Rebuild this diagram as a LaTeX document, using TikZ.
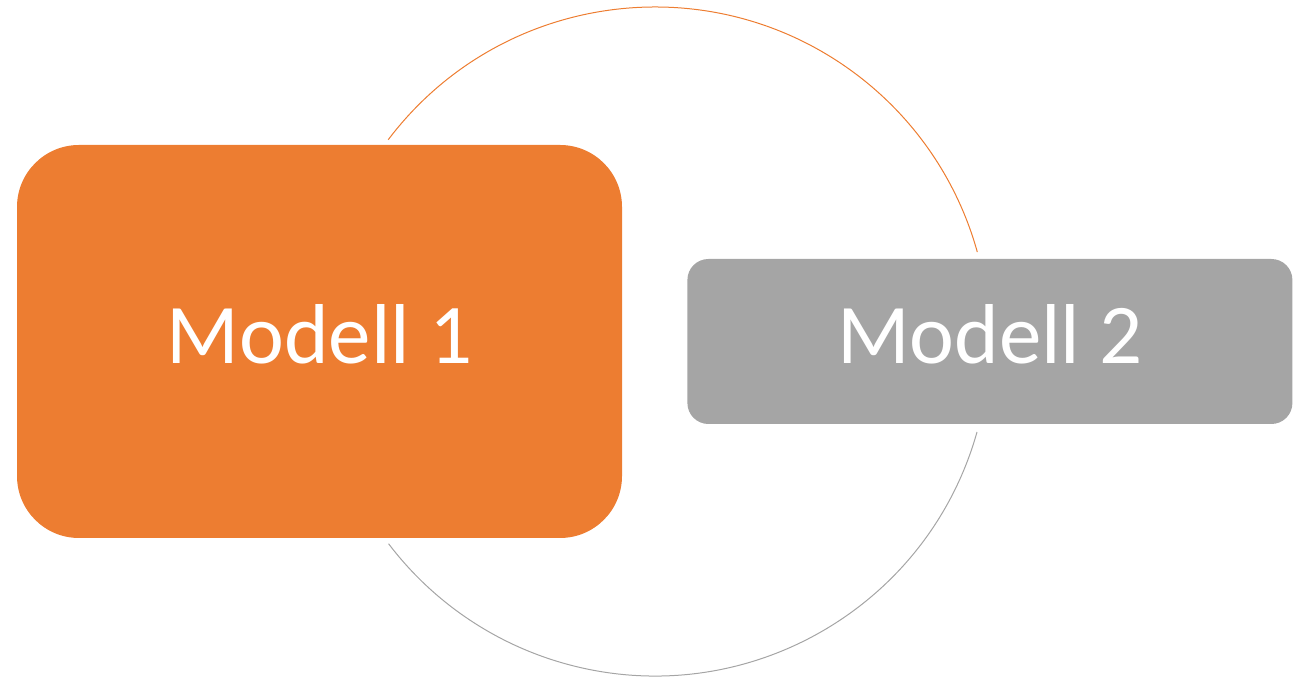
\documentclass[tikz,border=0pt]{standalone}
\usepackage{fontspec}
\setmainfont{Carlito}
\usetikzlibrary{positioning}
\definecolor{modorange}{HTML}{ED7D31}
\definecolor{modgray}{HTML}{A5A5A5}
\tikzset{
    modbox/.style={
           rectangle,
           inner sep=0pt,
           minimum width=605pt,
           text=white,
           text height=45pt,
           text depth=0pt,
           font=\fontsize{85}{100}\selectfont,
           },
}
\tikzset{
    ring/.style={
           line width=1pt,
           },
}

\begin{document}
\begin{tikzpicture}[x=1pt,y=1pt]
\useasboundingbox (0,0) rectangle (1301,677);
\coordinate (c) at (655,335.5);
\node[modbox,fill=modorange,rounded corners=62pt,minimum height=393pt](m1) at (319.5,335.5){Modell 1};
\node[modbox,fill=modgray,rounded corners=21pt,minimum height=165pt,right = 65pt of m1](m2){Modell 2};
\draw[ring,draw=modorange] (c) ++(142.9:334.5) arc[start angle=142.9,end angle=15.5,radius=334.5];
\draw[ring,draw=modgray] (c) ++(-15.7:334.5) arc[start angle=-15.7,end angle=-142.8,radius=334.5];
\end{tikzpicture}
\end{document}
